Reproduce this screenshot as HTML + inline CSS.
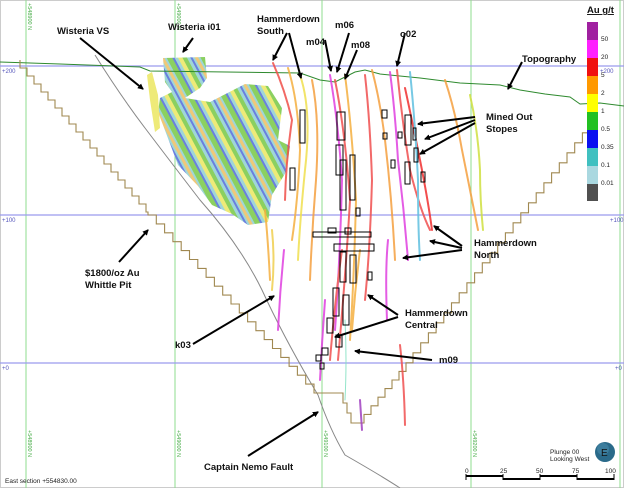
<!DOCTYPE html>
<html><head><meta charset="utf-8"><style>
html,body{margin:0;padding:0;background:#fff;}
svg{display:block;font-family:"Liberation Sans",sans-serif;}
.l{font-weight:bold;font-size:9.5px;fill:#111;}
</style></head><body>
<svg width="624" height="488" viewBox="0 0 624 488" xmlns="http://www.w3.org/2000/svg">
<defs>
<pattern id="wis" width="30" height="30" patternUnits="userSpaceOnUse" patternTransform="rotate(-28)">
<rect width="30" height="30" fill="#9fd6d8"/>
<rect x="0" width="5" height="30" fill="#8bd060"/>
<rect x="5" width="2" height="30" fill="#6a7fe0"/>
<rect x="10" width="4" height="30" fill="#eeea78"/>
<rect x="14" width="4" height="30" fill="#8bd060"/>
<rect x="21" width="2" height="30" fill="#6a7fe0"/>
<rect x="25" width="3" height="30" fill="#f0c878"/>
</pattern>
<marker id="ah" markerWidth="6" markerHeight="6" refX="5" refY="3" orient="auto" markerUnits="userSpaceOnUse"><path d="M0,0 L6,3 L0,6 z" fill="#000"/></marker>
</defs>
<rect x="0.5" y="0.5" width="623" height="487" fill="#fff" stroke="#ccc"/>
<g stroke="#8fdc8f" stroke-width="1">
<line x1="26" y1="0" x2="26" y2="488"/><line x1="175" y1="0" x2="175" y2="488"/>
<line x1="322" y1="0" x2="322" y2="488"/><line x1="471" y1="0" x2="471" y2="488"/>
<line x1="620" y1="0" x2="620" y2="488"/>
</g>
<g stroke="#9a9aee" stroke-width="1.2">
<line x1="0" y1="66" x2="624" y2="66"/><line x1="0" y1="215" x2="624" y2="215"/><line x1="0" y1="363" x2="624" y2="363"/>
</g>
<g font-size="6" fill="#5555bb"><text x="2" y="73">+200</text><text x="2" y="222">+100</text><text x="2" y="370">+0</text><text x="600" y="73">+200</text><text x="610" y="222">+100</text><text x="615" y="370">+0</text></g>
<g font-size="5.5" fill="#44aa44">
<text transform="translate(28,3) rotate(90)">+548900 N</text><text transform="translate(177,3) rotate(90)">+549000 N</text>
<text transform="translate(28,430) rotate(90)">+548900 N</text><text transform="translate(177,430) rotate(90)">+549000 N</text>
<text transform="translate(324,430) rotate(90)">+549100 N</text><text transform="translate(473,430) rotate(90)">+549200 N</text>
</g>
<path d="M163,58 L205,57 L207,78 L200,88 L185,98 L210,102 L245,84 L268,86 L282,108 L278,140 L290,146 L286,172 L272,195 L268,222 L248,225 L232,214 L212,205 L198,186 L178,165 L166,133 L158,112 L160,98 L172,92 L165,82 Z" fill="url(#wis)"/>
<path d="M147,75 L152,72 L158,95 L160,128 L155,132 L150,100 Z" fill="#eeea78"/>
<path d="M95,55 Q120,95 145,128 T200,200 Q240,245 262,290 Q285,340 318,395 Q330,430 345,455 Q380,475 400,488" fill="none" stroke="#888" stroke-width="1"/>
<path d="M0,62 L60,64 L140,67 L150,71 L300,73 L320,80 L335,82 L355,72 L365,70 L380,74 L420,78 L460,83 L500,85 L520,90 L545,94 L570,97 L580,104 L600,103 L624,106" fill="none" stroke="#2f8a2f" stroke-width="1"/>
<path fill="none" stroke="#a08850" stroke-width="1.1" d="M20,60 V68
h7v8h7v8h7v8h7v8h7v8h7v8h7v8h7v8h7v8h7v8h7v8h7v8h7v8h7v8h7v8h7v8h7v8h7v8h2v3
h8.3v8.9h8.3v8.9h8.3v8.9h8.3v8.9h8.3v8.9h8.3v8.9h8.3v8.9h8.3v8.9h8.3v8.9h8.3v8.9h8.3v8.9h8.3v8.9h8.3v8.9h8.3v8.9h8.3v8.9h8.3v8.9h8.3v8.9h8.3v8.9h8.3v8.9h8.3v8.9
h29 v10h4v10h4v10h5 h8
v-8.6h7v-8.6h7v-8.6h7v-8.6h7v-8.6h7v-8.6h7v-8.6h7
v-10h7.7v-10h7.7v-10h7.7v-10h7.7v-10h7.7v-10h7.7v-10h7.7v-10h7.7v-10h7.7v-10h7.7v-10h7.7v-10h7.7v-10h7.7v-10h7.7v-10h7.7v-10h7.7v-10h7.7v-10h7.7v-10h7.7v-10h7.7v-10h7.7v-10h7.7v-10h7.7 v-8"/>
<g fill="none" stroke-width="2" stroke-linecap="round" opacity="0.85">
<path d="M273,63 Q285,90 292,120 Q286,160 285,200" stroke="#f0504a"/>
<path d="M288,68 Q298,100 300,150 Q298,200 292,240" stroke="#f5b040"/>
<path d="M300,75 Q312,110 305,170 Q300,220 298,260" stroke="#f0e050"/>
<path d="M312,80 Q320,120 316,180 Q312,230 310,280" stroke="#f5a040"/>
<path d="M330,75 Q338,120 342,180 Q340,260 335,330" stroke="#e040e0"/>
<path d="M335,80 Q345,130 350,200 Q346,270 338,360" stroke="#f05050"/>
<path d="M345,75 Q352,130 356,200 Q354,280 350,340" stroke="#f5b040"/>
<path d="M365,75 Q370,120 372,180 Q370,250 365,300" stroke="#f05050"/>
<path d="M372,70 Q380,100 385,140 Q392,200 395,260" stroke="#f5a040"/>
<path d="M390,72 Q395,110 398,160 Q404,210 408,260" stroke="#e040e0"/>
<path d="M397,70 Q402,120 410,170 Q420,210 430,230" stroke="#f05050"/>
<path d="M405,88 Q412,120 420,160 Q428,200 432,230" stroke="#f03030"/>
<path d="M410,72 Q415,120 418,180 Q418,230 420,260" stroke="#60c0e0"/>
<path d="M445,80 Q455,110 462,150 Q470,190 478,230" stroke="#f5a040"/>
<path d="M470,95 Q478,130 480,170 Q480,200 483,230" stroke="#d0e040"/>
<path d="M265,210 Q268,240 270,280" stroke="#f5b040"/>
<path d="M272,230 Q275,260 272,290" stroke="#f0d050"/>
<path d="M284,250 Q280,290 278,330" stroke="#e040e0"/>
<path d="M325,300 Q322,340 320,380" stroke="#e040e0"/>
<path d="M342,250 Q335,300 330,360" stroke="#f05050"/>
<path d="M360,250 Q355,290 352,330" stroke="#f5b040"/>
<path d="M388,240 Q385,270 387,320" stroke="#e040e0"/>
<path d="M400,345 Q404,380 405,425" stroke="#f05050"/>
<path d="M360,400 L362,430" stroke="#a040c0"/>
<path d="M345,320 Q347,360 345,400" stroke="#80e0c0" stroke-width="1"/>
</g>
<g fill="none" stroke="#000" stroke-width="1">
<rect x="300" y="110" width="5" height="33"/><rect x="290" y="168" width="5" height="22"/>
<rect x="337" y="112" width="8" height="28"/><rect x="336" y="145" width="7" height="30"/>
<rect x="340" y="160" width="6" height="50"/><rect x="350" y="155" width="5" height="45"/><rect x="356" y="208" width="4" height="8"/>
<rect x="382" y="110" width="5" height="8"/><rect x="383" y="133" width="4" height="6"/><rect x="398" y="132" width="4" height="6"/>
<rect x="405" y="115" width="6" height="30"/><rect x="413" y="128" width="3" height="12"/><rect x="414" y="148" width="4" height="14"/>
<rect x="405" y="162" width="5" height="22"/><rect x="391" y="160" width="4" height="8"/><rect x="421" y="172" width="4" height="10"/>
<rect x="313" y="232" width="58" height="5"/><rect x="334" y="244" width="40" height="7"/>
<rect x="345" y="228" width="6" height="6"/><rect x="328" y="228" width="8" height="5"/>
<rect x="340" y="252" width="6" height="30"/><rect x="350" y="255" width="6" height="28"/><rect x="368" y="272" width="4" height="8"/>
<rect x="333" y="288" width="6" height="28"/><rect x="343" y="295" width="6" height="30"/>
<rect x="327" y="318" width="6" height="15"/><rect x="336" y="335" width="6" height="12"/>
<rect x="316" y="355" width="5" height="6"/><rect x="322" y="348" width="6" height="7"/><rect x="320" y="363" width="4" height="6"/>
</g>
<g stroke="#000" stroke-width="2" marker-end="url(#ah)">
<line x1="80" y1="38" x2="143" y2="89"/>
<line x1="193" y1="38" x2="183" y2="52"/>
<line x1="287" y1="33" x2="273" y2="60"/><line x1="289" y1="33" x2="301" y2="78"/>
<line x1="325" y1="40" x2="331" y2="71"/><line x1="349" y1="33" x2="337" y2="72"/><line x1="357" y1="50" x2="345" y2="79"/>
<line x1="405" y1="33" x2="397" y2="66"/>
<line x1="522" y1="62" x2="508" y2="89"/>
<line x1="475" y1="117" x2="418" y2="124"/><line x1="475" y1="120" x2="425" y2="139"/><line x1="475" y1="123" x2="420" y2="154"/>
<line x1="462" y1="246" x2="434" y2="226"/><line x1="462" y1="248" x2="430" y2="241"/><line x1="462" y1="250" x2="403" y2="258"/>
<line x1="398" y1="315" x2="368" y2="295"/><line x1="398" y1="317" x2="335" y2="337"/>
<line x1="432" y1="360" x2="355" y2="351"/>
<line x1="119" y1="262" x2="148" y2="230"/>
<line x1="193" y1="344" x2="274" y2="296"/>
<line x1="248" y1="456" x2="318" y2="412"/>
</g>
<g class="l">
<text x="57" y="34">Wisteria VS</text><text x="168" y="30">Wisteria i01</text>
<text x="257" y="22">Hammerdown</text><text x="257" y="34">South</text>
<text x="306" y="45">m04</text><text x="335" y="28">m06</text><text x="351" y="48">m08</text><text x="400" y="37">o02</text>
<text x="522" y="62">Topography</text>
<text x="486" y="120">Mined Out</text><text x="486" y="132">Stopes</text>
<text x="474" y="246">Hammerdown</text><text x="474" y="258">North</text>
<text x="405" y="316">Hammerdown</text><text x="405" y="328">Central</text>
<text x="439" y="363">m09</text>
<text x="85" y="276">$1800/oz Au</text><text x="85" y="288">Whittle Pit</text>
<text x="175" y="348">k03</text>
<text x="204" y="470">Captain Nemo Fault</text>
<text x="587" y="13" text-decoration="underline">Au g/t</text>
</g>
<g>
<rect x="587" y="22" width="11" height="18" fill="#a020a0"/><rect x="587" y="40" width="11" height="18" fill="#ff20ff"/>
<rect x="587" y="58" width="11" height="18" fill="#f01010"/><rect x="587" y="76" width="11" height="18" fill="#ff9900"/>
<rect x="587" y="94" width="11" height="18" fill="#ffff00"/><rect x="587" y="112" width="11" height="18" fill="#22c022"/>
<rect x="587" y="130" width="11" height="18" fill="#0a10f0"/><rect x="587" y="148" width="11" height="18" fill="#40c0c0"/>
<rect x="587" y="166" width="11" height="18" fill="#aad8e0"/><rect x="587" y="184" width="11" height="17" fill="#505050"/>
</g>
<g font-size="6.5" fill="#222"><text x="601" y="41">50</text><text x="601" y="59">20</text><text x="601" y="77">5</text><text x="601" y="95">2</text><text x="601" y="113">1</text><text x="601" y="131">0.5</text><text x="601" y="149">0.35</text><text x="601" y="167">0.1</text><text x="601" y="185">0.01</text></g>
<g font-size="6.5" fill="#222"><text x="550" y="454">Plunge 00</text><text x="550" y="461">Looking West</text>
<text x="465" y="473">0</text><text x="500" y="473">25</text><text x="536" y="473">50</text><text x="572" y="473">75</text><text x="605" y="473">100</text>
<text x="5" y="483">East section +554830.00</text></g>
<g stroke="#000" stroke-width="2"><line x1="466" y1="476" x2="503" y2="476"/><line x1="503" y1="479" x2="540" y2="479"/><line x1="540" y1="476" x2="577" y2="476"/><line x1="577" y1="479" x2="614" y2="479"/></g>
<g stroke="#000" stroke-width="1"><line x1="466" y1="474" x2="466" y2="480"/><line x1="503" y1="474" x2="503" y2="480"/><line x1="540" y1="474" x2="540" y2="480"/><line x1="577" y1="474" x2="577" y2="480"/><line x1="614" y1="474" x2="614" y2="480"/></g>
<circle cx="605" cy="452" r="10" fill="#2a6a8a"/><circle cx="603" cy="449" r="6" fill="#4a8aaa" opacity="0.6"/>
<text x="601" y="456" font-size="10" fill="#111">E</text>
</svg>
</body></html>
